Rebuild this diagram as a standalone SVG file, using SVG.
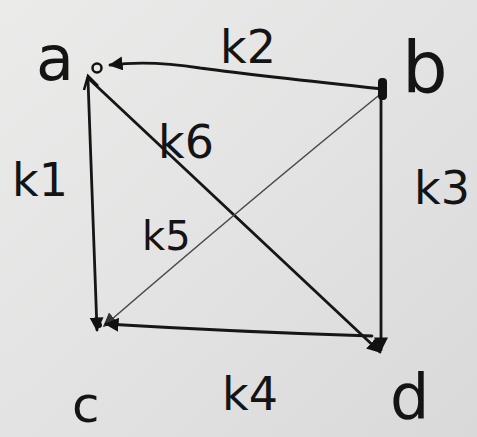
<svg xmlns="http://www.w3.org/2000/svg" width="477" height="437" viewBox="0 0 477 437">
<defs>
<linearGradient id="bg" x1="0" y1="0" x2="1" y2="1">
<stop offset="0" stop-color="#ebebea"/>
<stop offset="0.5" stop-color="#e3e3e3"/>
<stop offset="1" stop-color="#d9d9d9"/>
</linearGradient>
<marker id="arr" viewBox="0 0 10 10" refX="9" refY="5" markerWidth="14" markerHeight="14" markerUnits="userSpaceOnUse" orient="auto">
<path d="M0,0 L10,5 L0,10 z" fill="#111"/>
</marker>
<marker id="arrg" viewBox="0 0 10 10" refX="9" refY="5" markerWidth="14" markerHeight="14" markerUnits="userSpaceOnUse" orient="auto">
<path d="M0,0 L10,5 L0,10 z" fill="#333"/>
</marker>
</defs>
<style>
.edge{fill:none;stroke:#161616;stroke-width:2.8;stroke-linecap:round;marker-end:url(#arr)}
.thin{fill:none;stroke:#4a4a4a;stroke-width:1.6;stroke-linecap:round;marker-end:url(#arrg)}
.lbl{font-family:"DejaVu Sans","Liberation Sans",sans-serif;fill:#141414}
.node{font-family:"DejaVu Sans","Liberation Sans",sans-serif;fill:#141414}
</style>
<rect width="477" height="437" fill="url(#bg)"/>
<g id="connectors">
<path id="k2" class="edge" d="M383,89 Q 260,76 200,68 Q 150,60 110,65"/>
<path id="k1" class="edge" d="M88,80 L 97,330"/>
<path id="k6" class="edge" d="M88,78 L 380,352"/>
<path id="k5" class="thin" d="M383,92 Q 250,200 104,326"/>
<path id="k4" class="edge" d="M372,336 Q 240,332 106,324"/>
<path id="k3" class="edge" d="M381,96 L 381,350"/>
</g>
<g id="node-a">
<circle cx="97" cy="68" r="4.5" fill="none" stroke="#111" stroke-width="2.5"/>
<path d="M84,90 L88,76 L98,86" fill="none" stroke="#111" stroke-width="2.5"/>
<text class="node" x="36" y="80" font-size="62">a</text>
</g>
<g id="node-b">
<rect x="378" y="78" width="9" height="22" rx="4" fill="#111"/>
<text class="node" x="402" y="92" font-size="72">b</text>
</g>
<g id="node-c">
<circle cx="99" cy="325" r="3" fill="#111"/>
<text class="node" x="72" y="422" font-size="50">c</text>
</g>
<g id="node-d">
<circle cx="379" cy="348" r="3" fill="#111"/>
<text class="node" x="390" y="418" font-size="62">d</text>
</g>
<g id="labels">
<text class="lbl" x="220" y="63" font-size="46">k2</text>
<text class="lbl" x="158" y="158" font-size="46">k6</text>
<text class="lbl" x="12" y="196" font-size="46">k1</text>
<text class="lbl" x="414" y="204" font-size="46">k3</text>
<text class="lbl" x="142" y="250" font-size="40">k5</text>
<text class="lbl" x="222" y="410" font-size="46">k4</text>
</g>
</svg>
